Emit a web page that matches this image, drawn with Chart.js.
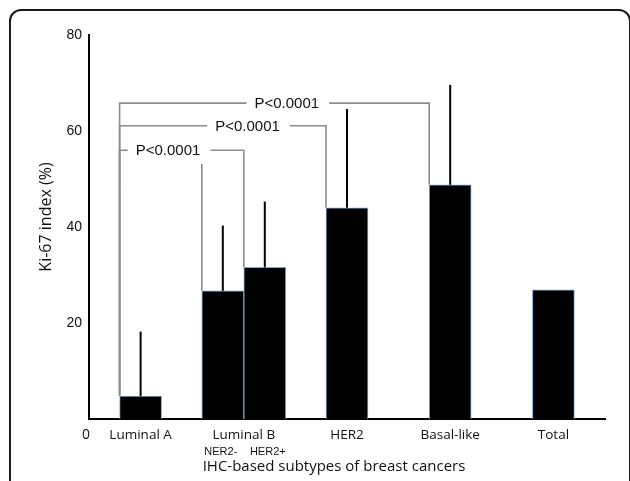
<!DOCTYPE html>
<html><head><meta charset="utf-8">
<script src="https://cdn.jsdelivr.net/npm/chart.js@4"></script>
<style>
html,body{margin:0;padding:0;background:#fff;}
#wrap{position:relative;width:630px;height:481px;overflow:hidden;}
#frame{position:absolute;left:9px;top:9px;width:622px;height:520px;box-sizing:border-box;border:2px solid #1a1a1a;border-radius:12px;pointer-events:none;}
canvas{position:absolute;left:0;top:0;}
</style></head><body>
<div id="wrap"><canvas id="c" width="630" height="481"></canvas><div id="frame"></div></div>
<script>
// ---- data ----
const categories = ['Luminal A', 'Luminal B', 'HER2', 'Basal-like', 'Total'];
const meanMain = [4.8, 26.7, 44.0, 48.8, 26.9];        // first bar of each group (Luminal B: HER2-)
const meanHer2Pos = [null, 31.6, null, null, null];    // Luminal B HER2+
const sdTopMain = [18.2, 40.3, 64.6, 69.6, null];      // upper end of error bar
const sdTopHer2Pos = [null, 45.3, null, null, null];
const subLabelsMain = ['', 'NER2-', '', '', ''];
const subLabelsHer2Pos = ['', 'HER2+', '', '', ''];
const yTickValues = [0, 20, 40, 60, 80];
const pLabels = ['P<0.0001', 'P<0.0001', 'P<0.0001'];
const pLevels = [65.8, 61.1, 56.0];
const pExtraLevel = 53.1;
const xTitle = 'IHC-based subtypes of breast cancers';
const yTitle = 'Ki-67 index (%)';

const errorData = [sdTopMain, sdTopHer2Pos];
const subLabels = [subLabelsMain, subLabelsHer2Pos];

const brackets = [
  { level: pLevels[0], label: pLabels[0], frac: 0.54, from: [0, 0], to: [0, 3] },
  { level: pLevels[1], label: pLabels[1], frac: 0.62, from: [0, 0], to: [0, 2] },
  { level: pLevels[2], label: pLabels[2], frac: 0.39, from: [0, 0], to: [1, 1], extra: { at: [0, 1], level: pExtraLevel } }
];

const annotPlugin = {
  id: 'annot',
  afterDatasetsDraw(chart) {
    const ctx = chart.ctx;
    const y = chart.scales.y;
    const el = (p) => chart.getDatasetMeta(p[0]).data[p[1]];
    const leftEdge = (e) => e.x - e.width / 2;
    ctx.save();
    // significance brackets
    ctx.strokeStyle = '#8c8c8c';
    ctx.lineWidth = 1.6;
    ctx.font = '15px "Liberation Sans", Arial, sans-serif';
    ctx.fillStyle = '#111';
    ctx.textAlign = 'center';
    ctx.textBaseline = 'middle';
    brackets.forEach(b => {
      const a = el(b.from), t = el(b.to);
      const lx = leftEdge(a), rx = leftEdge(t);
      const ly = y.getPixelForValue(b.level);
      const tx = lx + b.frac * (rx - lx);
      const w = ctx.measureText(b.label).width;
      ctx.beginPath();
      ctx.moveTo(lx, a.y); ctx.lineTo(lx, ly); ctx.lineTo(tx - w / 2 - 8, ly);
      ctx.moveTo(tx + w / 2 + 10, ly); ctx.lineTo(rx, ly); ctx.lineTo(rx, t.y);
      if (b.extra) {
        const e = el(b.extra.at);
        const ex = leftEdge(e);
        ctx.moveTo(ex, y.getPixelForValue(b.extra.level)); ctx.lineTo(ex, e.y);
      }
      ctx.stroke();
      ctx.fillText(b.label, tx, ly + 1);
    });
    // error bars
    ctx.strokeStyle = '#000';
    ctx.lineWidth = 2;
    errorData.forEach((arr, di) => {
      const meta = chart.getDatasetMeta(di);
      arr.forEach((v, i) => {
        if (v == null) return;
        const e = meta.data[i];
        ctx.beginPath();
        ctx.moveTo(e.x, e.y);
        ctx.lineTo(e.x, y.getPixelForValue(v));
        ctx.stroke();
      });
    });
    ctx.restore();
  },
  afterDraw(chart) {
    const ctx = chart.ctx;
    const area = chart.chartArea;
    ctx.save();
    ctx.fillStyle = '#111';
    ctx.textAlign = 'center';
    ctx.textBaseline = 'middle';
    // zero label under the axis corner
    ctx.font = '14px "Open Sans", sans-serif';
    ctx.fillText(String(yTickValues[0]), area.left - 3, area.bottom + 16);
    // sub-labels under Luminal B bars
    ctx.font = '11px "Liberation Sans", Arial, sans-serif';
    subLabels.forEach((arr, di) => {
      const meta = chart.getDatasetMeta(di);
      arr.forEach((s, i) => {
        if (!s) return;
        ctx.fillText(s, meta.data[i].x + (di === 1 ? 3 : -2), area.bottom + 33);
      });
    });
    // axis titles
    ctx.font = '15px "Open Sans", sans-serif';
    ctx.fillText(xTitle, (area.left + area.right) / 2 - 13, area.bottom + 48);
    ctx.translate(area.left - 43, (area.top + area.bottom) / 2 - 10);
    ctx.rotate(-Math.PI / 2);
    ctx.font = '16px "Open Sans", sans-serif';
    ctx.fillText(yTitle, 0, 0);
    ctx.restore();
  }
};

const barStyle = {
  backgroundColor: '#000',
  borderColor: '#7fa6d4',
  borderWidth: 1,
  borderSkipped: 'start',
  barThickness: 42,
  skipNull: true
};

new Chart(document.getElementById('c'), {
  type: 'bar',
  data: {
    labels: categories,
    datasets: [
      Object.assign({ label: 'main', data: meanMain }, barStyle),
      Object.assign({ label: 'HER2+', data: meanHer2Pos }, barStyle)
    ]
  },
  options: {
    responsive: false,
    animation: false,
    layout: { padding: { top: 35, right: 25, left: 0, bottom: 0 } },
    plugins: { legend: { display: false }, tooltip: { enabled: false } },
    scales: {
      x: {
        grid: { display: false, drawTicks: false },
        border: { display: true, color: '#000', width: 2 },
        ticks: { color: '#111', font: { family: 'Open Sans', size: 13.5 }, padding: 8, maxRotation: 0 },
        afterFit(s) { s.height = 62; }
      },
      y: {
        min: 0, max: 80,
        afterBuildTicks(s) { s.ticks = yTickValues.map(v => ({ value: v })); },
        grid: { display: false, drawTicks: false },
        border: { display: true, color: '#000', width: 2 },
        ticks: {
          color: '#111', font: { family: 'Liberation Sans', size: 14 }, padding: 7,
          callback: (v) => (v === 0 ? '' : String(v))
        },
        afterFit(s) { s.width = 89; }
      }
    }
  },
  plugins: [annotPlugin]
});
</script>
</body></html>
